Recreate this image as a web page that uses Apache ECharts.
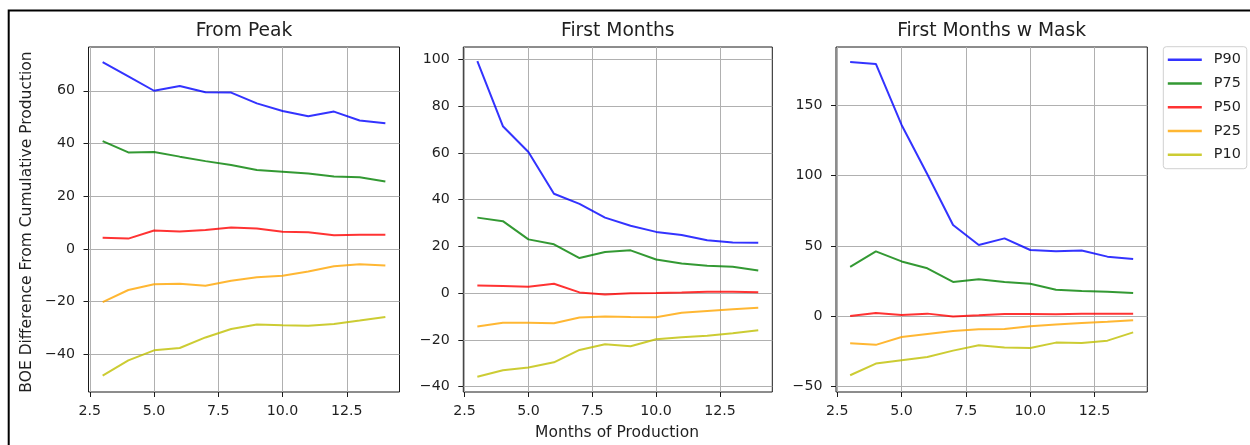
<!DOCTYPE html>
<html>
<head>
<meta charset="utf-8">
<script src="https://cdn.jsdelivr.net/npm/echarts@6/dist/echarts.min.js"></script>
<style>
  html, body { margin: 0; padding: 0; background: #fff; }
  #chart { width: 1250px; height: 445px; }
</style>
</head>
<body>
<div id="chart"></div>
<script>
// Months on the x axis (shared by all three panels)
const months = [3, 4, 5, 6, 7, 8, 9, 10, 11, 12, 13, 14];

// Percentile names and their line colours
const percentiles = ['P90', 'P75', 'P50', 'P25', 'P10'];
const lineColors = ['rgba(0,0,255,0.8)', 'rgba(0,128,0,0.8)', 'rgba(255,0,0,0.8)', 'rgba(255,165,0,0.8)', 'rgba(191,191,0,0.8)'];

// Panel titles
const panelTitles = ['From Peak', 'First Months', 'First Months w Mask'];

// From Peak
const peakP90 = [70.9, 65.5, 60.0, 61.8, 59.4, 59.3, 55.2, 52.3, 50.3, 52.1, 48.7, 47.7];
const peakP75 = [40.9, 36.6, 36.8, 35.0, 33.3, 31.8, 29.9, 29.3, 28.6, 27.5, 27.2, 25.6];
const peakP50 = [4.2, 3.9, 7.0, 6.6, 7.2, 8.1, 7.7, 6.5, 6.3, 5.2, 5.4, 5.4];
const peakP25 = [-20.2, -15.6, -13.4, -13.2, -14.0, -12.1, -10.8, -10.2, -8.6, -6.6, -5.8, -6.3];
const peakP10 = [-48.1, -42.3, -38.5, -37.6, -33.6, -30.4, -28.7, -29.0, -29.2, -28.5, -27.2, -25.8];

// First Months
const firstP90 = [99.3, 71.4, 60.4, 42.5, 38.2, 32.3, 28.8, 26.2, 24.9, 22.6, 21.7, 21.5];
const firstP75 = [32.3, 30.8, 23.0, 20.9, 15.0, 17.6, 18.3, 14.4, 12.7, 11.7, 11.3, 9.7];
const firstP50 = [3.3, 3.1, 2.7, 4.0, 0.3, -0.6, 0.0, 0.1, 0.3, 0.6, 0.6, 0.4];
const firstP25 = [-14.3, -12.7, -12.7, -12.9, -10.4, -10.0, -10.2, -10.3, -8.4, -7.6, -6.9, -6.3];
const firstP10 = [-35.8, -33.0, -31.8, -29.6, -24.3, -21.9, -22.7, -19.7, -18.9, -18.2, -17.2, -15.9];

// First Months w Mask
const maskP90 = [180.8, 179.4, 136.0, 101.0, 64.9, 50.7, 55.4, 47.1, 46.2, 46.7, 42.4, 40.7];
const maskP75 = [35.2, 46.1, 39.0, 34.1, 24.4, 26.3, 24.4, 23.2, 18.9, 18.0, 17.5, 16.6];
const maskP50 = [0.2, 2.4, 0.9, 1.9, -0.2, 0.7, 1.7, 1.7, 1.4, 1.9, 1.9, 1.9];
const maskP25 = [-19.2, -20.3, -14.7, -12.5, -10.4, -9.2, -9.0, -7.1, -5.9, -4.7, -3.8, -2.8];
const maskP10 = [-41.9, -33.6, -31.2, -28.9, -24.4, -20.6, -22.2, -22.5, -18.7, -18.9, -17.3, -11.4];

// Tick labels
const xTicks = [2.5, 5.0, 7.5, 10.0, 12.5];
const yTicksPeak = [-40, -20, 0, 20, 40, 60];
const yTicksFirst = [-40, -20, 0, 20, 40, 60, 80, 100];
const yTicksMask = [-50, 0, 50, 100, 150];

const panelSeries = [
  [peakP90, peakP75, peakP50, peakP25, peakP10],
  [firstP90, firstP75, firstP50, firstP25, firstP10],
  [maskP90, maskP75, maskP50, maskP25, maskP10]
];
const panelYTicks = [yTicksPeak, yTicksFirst, yTicksMask];

// Plot boxes and axis extents
const boxes = [
  { left: 88.5, width: 311 },
  { left: 463.3, width: 309 },
  { left: 836, width: 311.3 }
];
const plotTop = 47, plotHeight = 345;
const xRange = [2.45, 14.55];
const yRanges = [[-54.3, 76.6], [-42.3, 105.3], [-53.8, 191.4]];

const FONT = 'DejaVu Sans';
const TXT = '#1f1f1f';
const minus = v => String(v).replace('-', '\u2212');

const grid = [], xAxis = [], yAxis = [], title = [], series = [];
boxes.forEach((b, i) => {
  grid.push({
    left: b.left, top: plotTop, width: b.width, height: plotHeight,
    show: true, borderColor: '#1a1a1a', borderWidth: 1, backgroundColor: 'transparent'
  });
  xAxis.push({
    type: 'value', gridIndex: i, min: xRange[0], max: xRange[1],
    axisLine: { show: false, onZero: false },
    axisTick: { show: true, inside: false, length: 5, customValues: xTicks, lineStyle: { color: '#1a1a1a' } },
    axisLabel: { customValues: xTicks, formatter: v => v.toFixed(1), margin: 12.5,
                 fontFamily: FONT, fontSize: 14.2, color: TXT },
    splitLine: { show: true, lineStyle: { color: '#b0b0b0', width: 1 } }
  });
  yAxis.push({
    type: 'value', gridIndex: i, min: yRanges[i][0], max: yRanges[i][1],
    axisLine: { show: false, onZero: false },
    axisTick: { show: true, inside: false, length: 5, customValues: panelYTicks[i], lineStyle: { color: '#1a1a1a' } },
    axisLabel: { customValues: panelYTicks[i], formatter: minus, margin: 13.5,
                 fontFamily: FONT, fontSize: 14.2, color: TXT },
    splitLine: { show: true, lineStyle: { color: '#b0b0b0', width: 1 } }
  });
  title.push({
    text: panelTitles[i], left: b.left + b.width / 2, top: 21.5, textAlign: 'center', padding: 0,
    textStyle: { fontFamily: FONT, fontSize: 18.7, fontWeight: 'normal', color: TXT }
  });
  panelSeries[i].forEach((vals, k) => {
    series.push({
      type: 'line', name: percentiles[k], xAxisIndex: i, yAxisIndex: i,
      data: months.map((m, j) => [m, vals[j]]),
      symbol: 'none', silent: true, animation: false,
      lineStyle: { color: lineColors[k], width: 2 },
      itemStyle: { color: lineColors[k] }
    });
  });
});

const chart = echarts.init(document.getElementById('chart'), null, { renderer: 'canvas' });
chart.setOption({
  animation: false,
  backgroundColor: '#fff',
  title, grid, xAxis, yAxis, series,
  legend: {
    data: percentiles, orient: 'vertical', left: 1163.3, top: 46.7,
    icon: 'rect', itemWidth: 34, itemHeight: 2.5, itemGap: 9.75,
    padding: [6, 6, 7, 4.5],
    borderColor: '#d0d0d0', borderWidth: 1, borderRadius: 3,
    backgroundColor: '#fff',
    textStyle: { fontFamily: FONT, fontSize: 14.4, color: TXT, padding: [0, 0, 0, 7] }
  },
  graphic: [
    { type: 'rect', silent: true, z: 100,
      shape: { x: 8.7, y: 10.5, width: 1400, height: 600 },
      style: { fill: 'none', stroke: '#000', lineWidth: 2 } },
    { type: 'text', silent: true, x: 27, y: 222, rotation: Math.PI / 2,
      style: { text: 'BOE Difference From Cumulative Production', fontFamily: FONT, fontSize: 15.5,
               fill: TXT, textAlign: 'center', textVerticalAlign: 'middle' } },
    { type: 'text', silent: true, x: 617, y: 433,
      style: { text: 'Months of Production', fontFamily: FONT, fontSize: 15.5,
               fill: TXT, textAlign: 'center', textVerticalAlign: 'middle' } }
  ]
});
</script>
</body>
</html>
